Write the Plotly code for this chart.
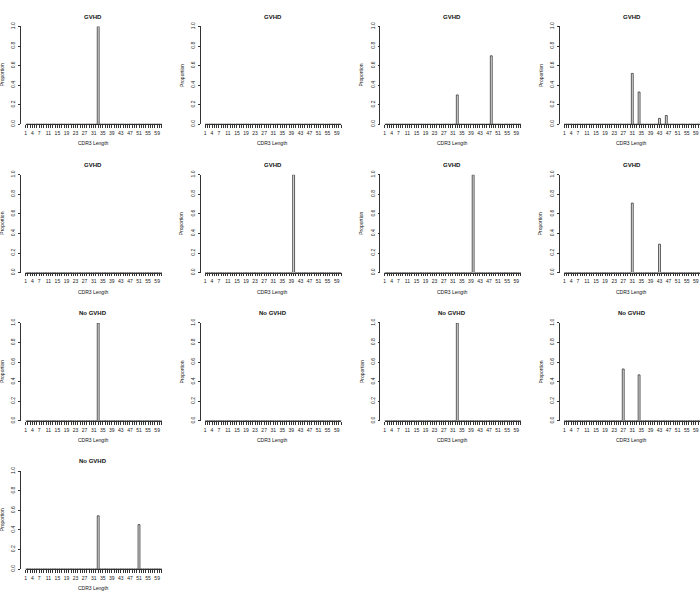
import plotly.graph_objects as go

# ---------------- data ----------------
cdr3_lengths = list(range(1, 62))
x_tick_labels = [1, 4, 7, 11, 15, 19, 23, 27, 31, 35, 39, 43, 47, 51, 55, 59]
y_tick_values = [0.0, 0.2, 0.4, 0.6, 0.8, 1.0]
panel_titles = ["GVHD"] * 8 + ["No GVHD"] * 5

p01_len, p01_prop = [33], [1.0]
p02_len, p02_prop = [], []
p03_len, p03_prop = [33, 48], [0.30, 0.70]
p04_len, p04_prop = [31, 34, 43, 46], [0.52, 0.33, 0.06, 0.09]
p05_len, p05_prop = [], []
p06_len, p06_prop = [40], [1.0]
p07_len, p07_prop = [40], [1.0]
p08_len, p08_prop = [31, 43], [0.71, 0.29]
p09_len, p09_prop = [33], [1.0]
p10_len, p10_prop = [], []
p11_len, p11_prop = [33], [1.0]
p12_len, p12_prop = [27, 34], [0.53, 0.47]
p13_len, p13_prop = [33, 51], [0.545, 0.455]

panel_lengths = [p01_len, p02_len, p03_len, p04_len, p05_len, p06_len, p07_len,
                 p08_len, p09_len, p10_len, p11_len, p12_len, p13_len]
panel_props = [p01_prop, p02_prop, p03_prop, p04_prop, p05_prop, p06_prop, p07_prop,
               p08_prop, p09_prop, p10_prop, p11_prop, p12_prop, p13_prop]

# ---------------- layout geometry ----------------
W, H = 700, 609
COL_STRIDE, ROW_STRIDE = 179.8, 150.0
PX_PER_BAR = 2.27
FONT = "Liberation Sans, Arial, sans-serif"


def px(x):
    return x / W


def py(y):
    return 1 - y / H


fig = go.Figure()
annotations = []
layout = {}

for i, (lens, props) in enumerate(zip(panel_lengths, panel_props)):
    r, c = divmod(i, 4)
    k = i + 1
    xa = "x" if k == 1 else f"x{k}"
    ya = "y" if k == 1 else f"y{k}"
    x0 = -0.6 + COL_STRIDE * c
    y0 = ROW_STRIDE * r

    full = [0.0] * len(cdr3_lengths)
    for L, p in zip(lens, props):
        full[cdr3_lengths.index(L)] = p

    fig.add_trace(go.Bar(
        x=cdr3_lengths, y=full, xaxis=xa, yaxis=ya,
        marker=dict(color="#e4e4e4", line=dict(color="#333333", width=0.8)),
        showlegend=False, hoverinfo="skip",
    ))

    bar1_px = x0 + 25.3
    bar_end_px = min(bar1_px + 60 * PX_PER_BAR, W)
    x_hi = 1 + (bar_end_px - bar1_px) / PX_PER_BAR
    top_px = y0 + 22.7
    bot_px = y0 + 121.7

    layout["xaxis" if k == 1 else f"xaxis{k}"] = dict(
        domain=[px(bar1_px), px(bar_end_px)],
        range=[1, x_hi],
        anchor=ya,
        tickmode="array",
        tickvals=cdr3_lengths,
        ticktext=[str(v) if v in x_tick_labels else "" for v in cdr3_lengths],
        ticks="outside", ticklen=3, tickwidth=0.7, tickcolor="#333333",
        tickangle=0,
        showline=True, linecolor="#333333", linewidth=0.8,
        showgrid=False, zeroline=False,
        tickfont=dict(size=5, color="#222222", family=FONT),
        ticklabelstandoff=1,
        fixedrange=True,
    )
    layout["yaxis" if k == 1 else f"yaxis{k}"] = dict(
        domain=[py(bot_px), py(top_px)],
        range=[0, 1],
        anchor="free",
        position=max(px(x0 + 20), 0),
        tickmode="array",
        tickvals=y_tick_values,
        ticktext=[f"{v:.1f}" for v in y_tick_values],
        tickangle=-90,
        ticks="outside", ticklen=2, tickwidth=0.7, tickcolor="#333333",
        showline=True, linecolor="#333333", linewidth=0.8,
        showgrid=False, zeroline=False,
        tickfont=dict(size=5, color="#222222", family=FONT),
        ticklabelstandoff=1,
        fixedrange=True,
    )

    cx = x0 + 93
    annotations.append(dict(
        text="<b>" + panel_titles[i] + "</b>", x=px(cx), y=py(y0 + 12.7),
        xref="paper", yref="paper", showarrow=False, xanchor="center", yanchor="middle",
        font=dict(size=6, color="#111111", family=FONT),
    ))
    annotations.append(dict(
        text="CDR3 Length", x=px(cx), y=py(y0 + 141),
        xref="paper", yref="paper", showarrow=False, xanchor="center", yanchor="middle",
        font=dict(size=5, color="#111111", family=FONT),
    ))
    annotations.append(dict(
        text="Proportion", x=px(x0 + 1.8), y=py(y0 + 72),
        xref="paper", yref="paper", showarrow=False, xanchor="center", yanchor="middle",
        textangle=-90,
        font=dict(size=5, color="#111111", family=FONT),
    ))

fig.update_layout(
    width=W, height=H,
    margin=dict(l=0, r=0, t=0, b=0),
    paper_bgcolor="white", plot_bgcolor="white",
    bargap=1 - 1 / 1.2,
    annotations=annotations,
    **layout,
)

fig.write_html("out.html")
